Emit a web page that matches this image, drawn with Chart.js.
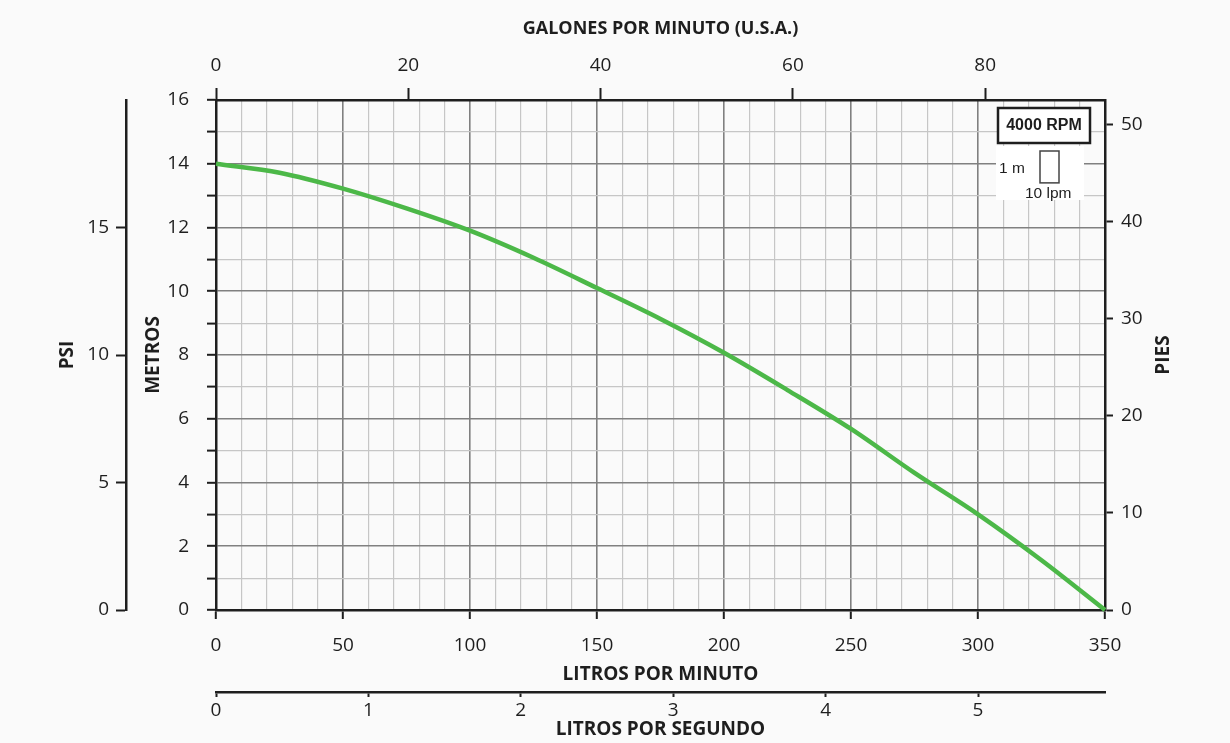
<!DOCTYPE html>
<html>
<head>
<meta charset="utf-8">
<script src="https://cdn.jsdelivr.net/npm/chart.js@4.4.0/dist/chart.umd.min.js"></script>
<style>
  html, body { margin: 0; padding: 0; background: #fafafa; }
  #wrap { width: 1230px; height: 743px; }
</style>
</head>
<body>
<div id="wrap"><canvas id="curve"></canvas></div>
<script>
// flow in litros por minuto, head in metros
const lpm    = [0, 25, 50, 75, 100, 125, 150, 175, 200, 225, 250, 275, 300, 325, 350];
const metros = [14.0, 13.72, 13.22, 12.6, 11.9, 11.05, 10.1, 9.13, 8.07, 6.9, 5.68, 4.3, 3.0, 1.56, 0];

// tick labels
const lpmLabels    = [0, 50, 100, 150, 200, 250, 300, 350];
const metrosLabels = [0, 2, 4, 6, 8, 10, 12, 14, 16];
const gpmTicks  = [0, 20, 40, 60, 80];
const lpsTicks  = [0, 1, 2, 3, 4, 5];
const psiTicks  = [0, 5, 10, 15];
const piesTicks = [0, 10, 20, 30, 40, 50];

const LPM_MAX = 350;
const M_MAX = 16;
const PSI_MAX = 20;           // as drawn on the chart: 5 psi lines up with 4 m
const LPM_PER_GPM = 3.785411784;
const M_PER_FT = 0.3048;

const INK = '#1e1e1e';
const MAJOR = '#808080';
const MINOR = '#c6c6c6';
const tickFont = { family: 'Open Sans', size: 19 };
const titleFont = { family: 'Open Sans', size: 19, weight: 'bold' };

const fixW = w => s => { s.width = w; };
const fixH = h => s => { s.height = h; };
const setTicks = list => s => { s.ticks = list.map(v => ({ value: v })); };
const border = { display: true, color: INK, width: 2.5 };

const background = {
  id: 'background',
  beforeDraw(chart) {
    const { ctx, width, height } = chart;
    ctx.save();
    ctx.fillStyle = '#fafafa';
    ctx.fillRect(0, 0, width, height);
    ctx.restore();
  }
};

const overlay = {
  id: 'overlay',
  afterDraw(chart) {
    const { ctx, chartArea: a, scales } = chart;
    ctx.save();

    // PIES title, reading bottom to top
    ctx.fillStyle = INK;
    ctx.font = 'bold 19px "Open Sans"';
    ctx.textAlign = 'center';
    ctx.textBaseline = 'middle';
    ctx.translate(a.right + 59, (a.top + a.bottom) / 2);
    ctx.rotate(-Math.PI / 2);
    ctx.fillText('PIES', 0, 0);
    ctx.setTransform(1, 0, 0, 1, 0, 0);

    // scale key patch
    ctx.fillStyle = '#ffffff';
    ctx.fillRect(a.right - 109, a.top + 46, 88, 54);

    // RPM box
    ctx.fillRect(a.right - 107, a.top + 8, 92, 35);
    ctx.strokeStyle = INK;
    ctx.lineWidth = 2.5;
    ctx.strokeRect(a.right - 107, a.top + 8, 92, 35);
    ctx.fillStyle = INK;
    ctx.font = 'bold 16px "Liberation Sans"';
    ctx.fillText('4000 RPM', a.right - 61, a.top + 26);

    // 1 m x 10 lpm key
    const oneM = scales.y.getPixelForValue(0) - scales.y.getPixelForValue(1);
    ctx.strokeStyle = '#444';
    ctx.lineWidth = 1.5;
    ctx.strokeRect(a.right - 65, a.top + 51, 19, oneM);
    ctx.font = '15.5px "Liberation Sans"';
    ctx.textAlign = 'left';
    ctx.fillText('1 m', a.right - 106, a.top + 69);
    ctx.fillText('10 lpm', a.right - 80, a.top + 94);
    ctx.restore();
  }
};

new Chart(document.getElementById('curve'), {
  type: 'line',
  data: {
    datasets: [{
      label: '4000 RPM',
      data: lpm.map((x, i) => ({ x, y: metros[i] })),
      borderColor: '#4cb848',
      borderWidth: 4.5,
      pointRadius: 0,
      cubicInterpolationMode: 'monotone',
      fill: false,
      clip: 5
    }]
  },
  options: {
    responsive: true,
    maintainAspectRatio: false,
    animation: false,
    layout: { padding: 0 },
    plugins: { legend: { display: false }, tooltip: { enabled: false } },
    scales: {
      x: {
        type: 'linear', position: 'bottom', weight: 0,
        min: 0, max: LPM_MAX,
        afterFit: fixH(82),
        ticks: {
          stepSize: 10, autoSkip: false, maxRotation: 0, padding: 15,
          font: tickFont, color: INK,
          callback: v => lpmLabels.includes(v) ? v : ''
        },
        grid: {
          color: c => c.tick && c.tick.value % 50 === 0 ? MAJOR : MINOR,
          lineWidth: c => c.tick && c.tick.value % 50 === 0 ? 1.6 : 1.2,
          tickLength: 9,
          tickWidth: 2,
          tickColor: c => c.tick && lpmLabels.includes(c.tick.value) ? INK : 'transparent'
        },
        border,
        title: { display: true, text: 'LITROS POR MINUTO', font: titleFont, color: INK, padding: { top: 0, bottom: 6 } }
      },
      lps: {
        type: 'linear', axis: 'x', position: 'bottom', weight: 1,
        min: 0, max: LPM_MAX / 60,
        afterFit: fixH(51),
        afterBuildTicks: setTicks(lpsTicks),
        ticks: { maxRotation: 0, padding: 2, font: tickFont, color: INK },
        grid: { drawOnChartArea: false, tickLength: 5, tickWidth: 2, tickColor: INK },
        border,
        title: { display: true, text: 'LITROS POR SEGUNDO', font: titleFont, color: INK, padding: { top: 0, bottom: 2 } }
      },
      gpm: {
        type: 'linear', axis: 'x', position: 'top',
        min: 0, max: LPM_MAX / LPM_PER_GPM,
        afterFit: fixH(100),
        afterBuildTicks: setTicks(gpmTicks),
        ticks: { maxRotation: 0, padding: 11, font: tickFont, color: INK },
        grid: { drawOnChartArea: false, tickLength: 12, tickWidth: 2, tickColor: INK },
        border,
        title: { display: true, text: 'GALONES POR MINUTO (U.S.A.)', font: { family: 'Open Sans', size: 18, weight: 'bold' }, color: INK, padding: { top: 18, bottom: 0 } }
      },
      y: {
        type: 'linear', position: 'left', weight: 0,
        min: 0, max: M_MAX,
        afterFit: fixW(90),
        ticks: {
          stepSize: 1, autoSkip: false, padding: 18,
          font: tickFont, color: INK,
          callback: v => metrosLabels.includes(v) ? v : ''
        },
        grid: {
          color: c => c.tick && c.tick.value % 2 === 0 ? MAJOR : MINOR,
          lineWidth: c => c.tick && c.tick.value % 2 === 0 ? 1.6 : 1.2,
          tickLength: 9,
          tickWidth: 2,
          tickColor: INK
        },
        border,
        title: { display: true, text: 'METROS', font: titleFont, color: INK, padding: { top: 16, bottom: 0 } }
      },
      psi: {
        type: 'linear', axis: 'y', position: 'left', weight: 1,
        min: 0, max: PSI_MAX,
        afterFit: fixW(126),
        afterBuildTicks: setTicks(psiTicks),
        ticks: { padding: 7, font: tickFont, color: INK },
        grid: { drawOnChartArea: false, tickLength: 10, tickWidth: 2, tickColor: INK },
        border,
        title: { display: true, text: 'PSI', font: titleFont, color: INK, padding: { top: 56, bottom: 0 } }
      },
      pies: {
        type: 'linear', axis: 'y', position: 'right',
        min: 0, max: M_MAX / M_PER_FT,
        afterFit: fixW(125),
        afterBuildTicks: setTicks(piesTicks),
        ticks: { padding: 8, font: tickFont, color: INK },
        grid: { drawOnChartArea: false, tickLength: 8, tickWidth: 2, tickColor: INK },
        border,
        title: { display: false }
      }
    }
  },
  plugins: [background, overlay]
});
</script>
</body>
</html>
